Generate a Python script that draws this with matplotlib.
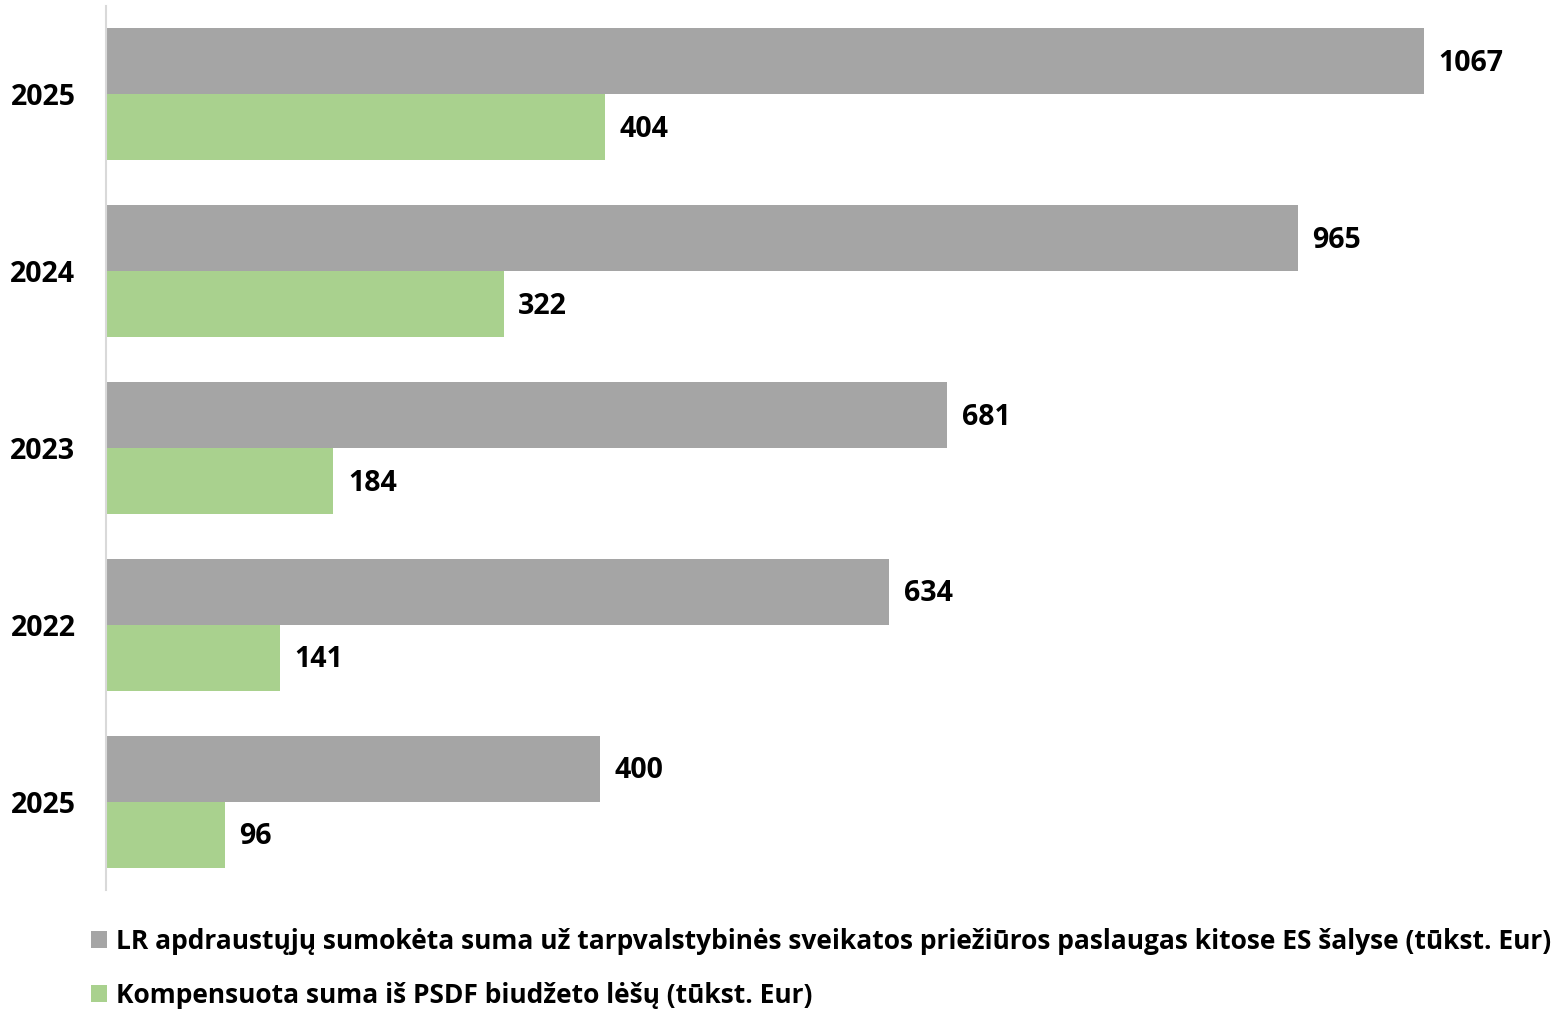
import matplotlib
matplotlib.use("Agg")
import matplotlib.pyplot as plt
import numpy as np

categories = ["2025", "2022", "2023", "2024", "2025"]  # bottom to top
paid = [400, 634, 681, 965, 1067]
compensated = [96, 141, 184, 322, 404]
series_names = [
    "LR apdraustųjų sumokėta suma už tarpvalstybinės sveikatos priežiūros paslaugas kitose ES šalyse (tūkst. Eur)",
    "Kompensuota suma iš PSDF biudžeto lėšų (tūkst. Eur)",
]
colors = ["#a5a5a5", "#a9d18e"]

plt.rcParams['font.family'] = ['Open Sans', 'DejaVu Sans']
plt.rcParams['font.weight'] = 'bold'

fig = plt.figure(figsize=(15.6, 10.11), dpi=100)
ax = fig.add_axes([106/1560, 1-890/1011, 1-106/1560, (890-6)/1011])

y = np.arange(len(categories))
h = 0.373
b1 = ax.barh(y + h/2, paid, height=h, color=colors[0], label=series_names[0])
b2 = ax.barh(y - h/2, compensated, height=h, color=colors[1], label=series_names[1])

for bars, vals in ((b1, paid), (b2, compensated)):
    for rect, v in zip(bars, vals):
        ax.annotate(f"{v}", (rect.get_width(), rect.get_y() + rect.get_height()/2),
                    xytext=(10.5, -1.5), textcoords="offset points", va="center", ha="left",
                    fontsize=20.5, fontweight="bold", color="black")

ax.set_ylim(-0.5, len(categories) - 0.5)
ax.set_xlim(0, 1454/1.2352)
ax.set_yticks(y)
ax.set_yticklabels(categories, fontsize=20.5, fontweight="bold")
ax.tick_params(axis="y", length=0, pad=22)
ax.tick_params(axis="x", bottom=False, labelbottom=False)
for s in ("top", "right", "bottom"):
    ax.spines[s].set_visible(False)
ax.spines["left"].set_color("#d9d9d9")
ax.spines["left"].set_linewidth(1.5)

fig.legend(handles=[b1, b2], loc="upper left", bbox_to_anchor=(91/1560, 1-928/1011),
           frameon=False, borderaxespad=0, borderpad=0, handlelength=0.62, handleheight=0.62,
           handletextpad=0.33, labelspacing=1.03, prop={"size": 19.0, "weight": "bold"})

fig.savefig("out.png", dpi=100)
